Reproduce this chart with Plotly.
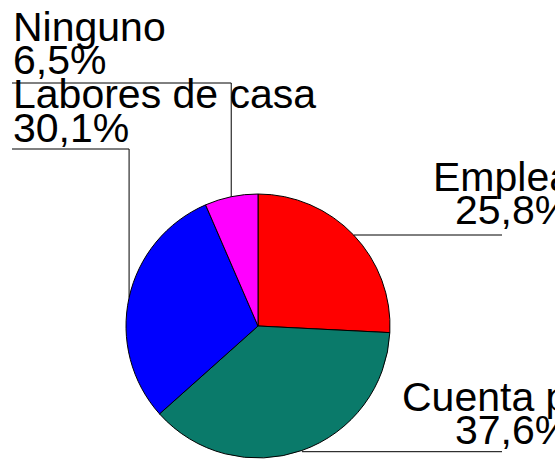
import math
import plotly.graph_objects as go

# Data
categories = ["Empleado", "Cuenta propia", "Labores de casa", "Ninguno"]
values = [25.8, 37.6, 30.1, 6.5]
pct_labels = ["25,8%", "37,6%", "30,1%", "6,5%"]
colors = ["#FF0000", "#0A7A6A", "#0000FF", "#FF00FF"]

W, H = 555, 459
CX, CY, R = 258, 326, 132
FS = 41


def px(x):
    return x / W


def py(y):
    return 1 - y / H


fig = go.Figure(go.Pie(
    labels=categories, values=values, sort=False, direction="clockwise",
    rotation=0, textinfo="none", hoverinfo="label+percent",
    marker=dict(colors=colors, line=dict(color="black", width=1)),
    domain=dict(x=[px(CX - R), px(CX + R)], y=[py(CY + R), py(CY - R)]),
    showlegend=False,
))

# rim midpoints of each slice (computed from the data)
total = sum(values)
mids = []
acc = 0
for v in values:
    a = (acc + v / 2) / total * 2 * math.pi
    mids.append((CX + R * math.sin(a), CY - R * math.cos(a)))
    acc += v

# label layout: (name line x, name baseline, pct x, pct baseline, underline y, line end x)
layout_spec = {
    "Empleado": (431, 191.7, 453, 224, 235, 502),
    "Cuenta propia": (400, 411.7, 453, 444, 451.7, 502),
    "Labores de casa": (11, 108.3, 11, 142.7, 149, 12),
    "Ninguno": (11, 41.7, 11, 74, 83, 12),
}

shapes = []
annotations = []
for i, cat in enumerate(categories):
    nx, nb, pxx, pb, uy, ex = layout_spec[cat]
    mx, my = mids[i]
    for txt, tx, tb in ((cat, nx, nb), (pct_labels[i], pxx, pb)):
        annotations.append(dict(
            text=txt, x=px(tx), y=py(tb - 0.35 * FS), xref="paper", yref="paper",
            xanchor="left", yanchor="middle", showarrow=False,
            font=dict(family="Arial, Liberation Sans", size=FS, color="black"),
        ))
    if ex > mx:
        shapes.append(dict(type="line", xref="paper", yref="paper",
                           x0=px(mx), y0=py(uy), x1=px(ex), y1=py(uy),
                           line=dict(color="black", width=1)))
    else:
        path = f"M {px(ex)} {py(uy)} L {px(mx)} {py(uy)} L {px(mx)} {py(my)}"
        shapes.append(dict(type="path", xref="paper", yref="paper", path=path,
                           line=dict(color="black", width=1)))

fig.update_layout(
    width=W, height=H, margin=dict(l=0, r=0, t=0, b=0),
    paper_bgcolor="white", plot_bgcolor="white",
    shapes=shapes, annotations=annotations,
)
fig.write_html("out.html", config={"displayModeBar": False},
               post_script="document.body.style.margin='0';document.body.style.overflow='hidden';")
